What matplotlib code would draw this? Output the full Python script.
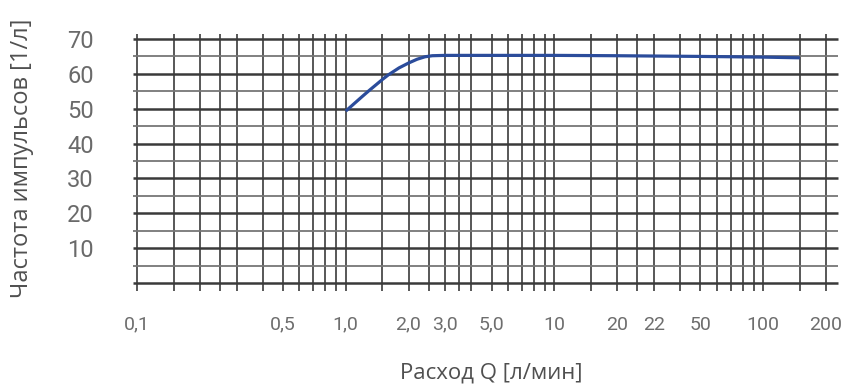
import matplotlib
matplotlib.use("Agg")
import matplotlib.pyplot as plt
import numpy as np

# ---- data ----
flow_q = [1.0, 1.1, 1.2, 1.3, 1.4, 1.5, 1.6, 1.8, 2.0, 2.2, 2.4, 2.6, 3.0, 5.0,
          10.0, 20.0, 50.0, 100.0, 150.0]
pulse_freq = [49.3, 51.5, 53.5, 55.3, 56.9, 58.4, 59.7, 61.7, 63.1, 64.2, 64.9, 65.2,
              65.3, 65.3, 65.3, 65.2, 65.0, 64.8, 64.6]

x_tick_values = [0.1, 0.5, 1.0, 2.0, 3.0, 5.0, 10.0, 20.0, 30.0, 50.0, 100.0, 200.0]
x_tick_labels = ["0,1", "0,5", "1,0", "2,0", "3,0", "5,0", "10", "20", "22", "50", "100", "200"]
y_tick_values = [10, 20, 30, 40, 50, 60, 70]
y_tick_labels = ["10", "20", "30", "40", "50", "60", "70"]

x_grid = [0.1, 0.15, 0.2, 0.25, 0.3, 0.4, 0.5, 0.6, 0.7, 0.8, 0.9,
          1.0, 1.5, 2.0, 2.5, 3.0, 3.5, 4.0, 5.0, 6.0, 7.0, 8.0, 9.0,
          10.0, 15.0, 20.0, 25.0, 30.0, 40.0, 50.0, 60.0, 70.0, 80.0, 90.0,
          100.0, 150.0, 200.0]
y_major = [0, 10, 20, 30, 40, 50, 60, 70]
y_minor = [5, 15, 25, 35, 45, 55, 65]

W, H = 843, 392
fig = plt.figure(figsize=(W / 100, H / 100), dpi=100)
ax_l, ax_r, ax_t, ax_b = 130, 840, 30, 295
ax = fig.add_axes([ax_l / W, 1 - ax_b / H, (ax_r - ax_l) / W, (ax_b - ax_t) / H])
ax.set_xscale("log")
ax.set_xlim(0.0926, 233.5)
ax.set_ylim(-3.44, 72.58)
for s in ax.spines.values():
    s.set_visible(False)

ax.vlines(x_grid, -2.3, 71.4, colors="#4a4a4a", linewidth=1.3, zorder=1)
ax.hlines(y_major, 0.0957, 228, colors="#3a3a3a", linewidth=1.8, zorder=1)
ax.hlines(y_minor, 0.0957, 228, colors="#767676", linewidth=1.3, zorder=1)

ax.plot(flow_q, pulse_freq, color="#2b4c9b", linewidth=2.3, solid_capstyle="butt",
        solid_joinstyle="round", zorder=3)

tick_font = ["Liberation Sans Narrow", "Roboto", "DejaVu Sans"]
ax.set_xticks(x_tick_values)
ax.set_xticklabels(x_tick_labels, fontsize=14, color="#6e6e6e", family=tick_font)
ax.xaxis.set_minor_locator(matplotlib.ticker.NullLocator())
ax.set_yticks(y_tick_values)
ax.set_yticklabels(y_tick_labels, fontsize=17, color="#6a6a6a", family=tick_font)
ax.tick_params(axis="x", length=0, pad=15)
ax.tick_params(axis="y", length=0, pad=26)

ax.set_xlabel("Расход Q [л/мин]", fontsize=16, color="#505050", family=["Open Sans", "DejaVu Sans"])
ax.xaxis.set_label_coords((491 - ax_l) / (ax_r - ax_l), (ax_b - 373) / (ax_b - ax_t))
ax.xaxis.label.set_va("center")
ax.set_ylabel("Частота импульсов [1/л]", fontsize=17, color="#505050", family=["Open Sans", "DejaVu Sans"])
ax.yaxis.set_label_coords((22 - ax_l) / (ax_r - ax_l), (ax_b - 158) / (ax_b - ax_t))
ax.yaxis.label.set_va("center")

fig.savefig("out.png", dpi=100)
